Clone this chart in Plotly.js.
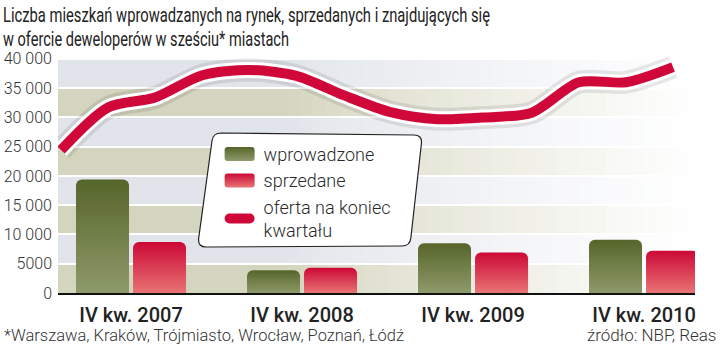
<!DOCTYPE html>
<html><head><meta charset="utf-8">
<script src="https://cdn.plot.ly/plotly-3.0.1.min.js"></script>
<style>html,body{margin:0;padding:0;background:#fff}#chart{width:720px;height:347px}</style>
</head><body><div id="chart"></div>
<script>
const categories = ['IV kw. 2007', 'IV kw. 2008', 'IV kw. 2009', 'IV kw. 2010'];
const introduced = [19400, 3900, 8500, 9100];
const sold = [8700, 4300, 6900, 7200];
const quarters = ['III kw. 2007', 'IV kw. 2007', 'I kw. 2008', 'II kw. 2008', 'III kw. 2008', 'IV kw. 2008',
  'I kw. 2009', 'II kw. 2009', 'III kw. 2009', 'IV kw. 2009', 'I kw. 2010', 'II kw. 2010', 'III kw. 2010', 'IV kw. 2010'];
const offer = [24400, 31700, 33400, 37200, 38100, 37100, 33800, 30900, 29700, 30000, 30800, 36000, 36000, 38600];
const yTickVals = [0, 5000, 10000, 15000, 20000, 25000, 30000, 35000, 40000];
const yTickText = ['0', '5000', '10 000', '15 000', '20 000', '25 000', '30 000', '35 000', '40 000'];

const FONT = 'Roboto, sans-serif';

function mix(c1, c2, t) {
  const r = Math.round(c1[0] + (c2[0] - c1[0]) * t);
  const g = Math.round(c1[1] + (c2[1] - c1[1]) * t);
  const b = Math.round(c1[2] + (c2[2] - c1[2]) * t);
  return `rgb(${r},${g},${b})`;
}
const beige = [212, 213, 190], grey = [225, 228, 234], white = [255, 255, 255];
const shapes = [];
const fadeStart = 0.36, fadeEnd = 1.0, nSeg = 32;
for (let k = 0; k < yTickVals.length - 1; k++) {
  const base = k % 2 === 0 ? beige : grey;
  shapes.push({type: 'rect', layer: 'below', xref: 'paper', yref: 'y', x0: 0, x1: fadeStart + 0.001,
    y0: yTickVals[k], y1: yTickVals[k + 1], fillcolor: mix(base, white, 0), line: {width: 0}});
  for (let s = 0; s < nSeg; s++) {
    const a = fadeStart + (fadeEnd - fadeStart) * s / nSeg;
    const b = fadeStart + (fadeEnd - fadeStart) * (s + 1) / nSeg;
    const t = Math.pow((s + 0.5) / nSeg, 0.8);
    shapes.push({type: 'rect', layer: 'below', xref: 'paper', yref: 'y', x0: a, x1: b + 0.002,
      y0: yTickVals[k], y1: yTickVals[k + 1], fillcolor: mix(base, white, t), line: {width: 0}});
  }
}
// legend box (slanted, rounded)
shapes.push({type: 'path', layer: 'above', xref: 'paper', yref: 'paper',
  path: 'M 0.2559,0.6667 L 0.5588,0.6583 Q 0.5714,0.6583 0.5706,0.625 L 0.5539,0.2292 Q 0.5526,0.1958 0.5400,0.1958 L 0.2324,0.1917 Q 0.2198,0.1917 0.2207,0.225 L 0.2417,0.6333 Q 0.2433,0.6667 0.2559,0.6667 Z',
  fillcolor: '#ffffff', line: {color: '#222', width: 1.2}});

const traces = [
  {type: 'bar', x: categories, y: introduced, name: 'wprowadzone', xaxis: 'x', yaxis: 'y',
    marker: {color: '#6f7c41', cornerradius: 6, line: {width: 0}}, hoverinfo: 'skip'},
  {type: 'bar', x: categories, y: sold, name: 'sprzedane', xaxis: 'x', yaxis: 'y',
    marker: {color: '#dc3b4c', cornerradius: 6, line: {width: 0}}, hoverinfo: 'skip'},
  {type: 'scatter', mode: 'lines', x: quarters, y: offer, xaxis: 'x2', yaxis: 'y', showlegend: false,
    line: {color: 'rgba(0,0,0,0.09)', width: 23, shape: 'spline', smoothing: 0.8}, hoverinfo: 'skip'},
  {type: 'scatter', mode: 'lines', x: quarters, y: offer, xaxis: 'x2', yaxis: 'y', showlegend: false,
    line: {color: '#ffffff', width: 16, shape: 'spline', smoothing: 0.8}, hoverinfo: 'skip'},
  {type: 'scatter', mode: 'lines', x: quarters, y: offer, xaxis: 'x2', yaxis: 'y', name: 'oferta na koniec<br>kwartału',
    line: {color: '#d0083a', width: 10, shape: 'spline', smoothing: 0.8}, hoverinfo: 'skip'}
];

const layout = {
  width: 720, height: 347,
  margin: {l: 58, r: 25, t: 53, b: 54},
  paper_bgcolor: '#fff', plot_bgcolor: '#fff',
  font: {family: FONT, color: '#2a2a2a'},
  barmode: 'group', bargap: 0.333, bargroupgap: 0.07,
  showlegend: true,
  legend: {x: 0.26, y: 0.655, xanchor: 'left', yanchor: 'top', bgcolor: 'rgba(0,0,0,0)', borderwidth: 0,
    font: {size: 18, color: '#2a2a2a', family: FONT, weight: 300}, tracegroupgap: 0, itemwidth: 30},
  xaxis: {type: 'category', range: [-0.427, 3.298], showgrid: false, zeroline: false,
    showline: true, linecolor: '#111', linewidth: 2, ticks: '', ticklabelstandoff: 3,
    tickfont: {size: 20, color: '#222', family: FONT, weight: 500}, fixedrange: true},
  xaxis2: {type: 'category', overlaying: 'x', range: [-0.064, 13.466], visible: false, fixedrange: true},
  yaxis: {range: [0, 41000], tickvals: yTickVals, ticktext: yTickText, showgrid: true, gridcolor: '#ffffff',
    gridwidth: 2, zeroline: false, showline: false, ticks: '', ticklabelstandoff: 5,
    tickfont: {size: 16, color: '#333', family: FONT, weight: 300}, fixedrange: true},
  shapes: shapes,
  annotations: [
    {xref: 'paper', yref: 'paper', x: -0.088, y: (293 - 2) / 240, xanchor: 'left', yanchor: 'top', showarrow: false, align: 'left', borderpad: 0,
      text: 'Liczba mieszkań wprowadzanych na rynek, sprzedanych i znajdujących się', font: {family: FONT, size: 20, color: '#222', weight: 400}},
    {xref: 'paper', yref: 'paper', x: -0.088, y: (293 - 25.5) / 240, xanchor: 'left', yanchor: 'top', showarrow: false, align: 'left', borderpad: 0,
      text: 'w ofercie deweloperów w sześciu* miastach', font: {family: FONT, size: 20, color: '#222', weight: 400}},
    {xref: 'paper', yref: 'paper', x: -0.088, y: (293 - 335) / 240, xanchor: 'left', yanchor: 'middle', showarrow: false, align: 'left',
      text: '*Warszawa, Kraków, Trójmiasto, Wrocław, Poznań, Łódź', font: {family: FONT, size: 17, color: '#333', weight: 300}},
    {xref: 'paper', yref: 'paper', x: (718 - 58) / 637, y: (293 - 335) / 240, xanchor: 'right', yanchor: 'middle', showarrow: false, align: 'right',
      text: 'źródło: NBP, Reas', font: {family: FONT, size: 17, color: '#333', weight: 300}}
  ]
};

Plotly.newPlot('chart', traces, layout, {staticPlot: true, displayModeBar: false}).then(function (gd) {
  const ns = 'http://www.w3.org/2000/svg';
  const svg = gd.querySelector('.main-svg');
  let defs = svg.querySelector('defs');
  if (!defs) { defs = document.createElementNS(ns, 'defs'); svg.insertBefore(defs, svg.firstChild); }
  function addGrad(id, top, bottom) {
    const g = document.createElementNS(ns, 'linearGradient');
    g.setAttribute('id', id); g.setAttribute('x1', '0'); g.setAttribute('y1', '0');
    g.setAttribute('x2', '0'); g.setAttribute('y2', '1');
    [[0, top], [1, bottom]].forEach(function (st) {
      const s = document.createElementNS(ns, 'stop');
      s.setAttribute('offset', st[0]); s.setAttribute('stop-color', st[1]);
      g.appendChild(s);
    });
    defs.appendChild(g);
  }
  addGrad('gradGreen', '#56652a', '#8e9a6a');
  addGrad('gradRed', '#cc0836', '#e87474');
  const grads = ['gradGreen', 'gradRed'];
  gd.querySelectorAll('.barlayer .trace').forEach(function (tr, i) {
    tr.querySelectorAll('path').forEach(function (p) { p.style.fill = 'url(#' + grads[i] + ')'; });
  });
  // legend swatches
  const items = gd.querySelectorAll('.legend .traces');
  items.forEach(function (it, i) {
    if (i < 2) {
      it.querySelectorAll('.legendpoints path').forEach(function (p) {
        p.setAttribute('d', 'M-16,-7h24a3,3 0 0 1 3,3v8a3,3 0 0 1 -3,3h-24a3,3 0 0 1 -3,-3v-8a3,3 0 0 1 3,-3z');
        p.style.fill = 'url(#' + grads[i] + ')';
        p.style.stroke = 'none';
      });
    } else {
      it.querySelectorAll('.legendlines path').forEach(function (p) {
        p.style.strokeLinecap = 'round';
        p.setAttribute('d', 'M6,0h20');
      });
    }
  });
  // condensed title / footer text
  const annTexts = gd.querySelectorAll('.annotation-text');
  const lengths = [487, 286, 400, null];
  annTexts.forEach(function (t, i) {
    if (lengths[i]) {
      t.setAttribute('textLength', lengths[i]);
      t.setAttribute('lengthAdjust', 'spacingAndGlyphs');
    }
  });
});
</script></body></html>
